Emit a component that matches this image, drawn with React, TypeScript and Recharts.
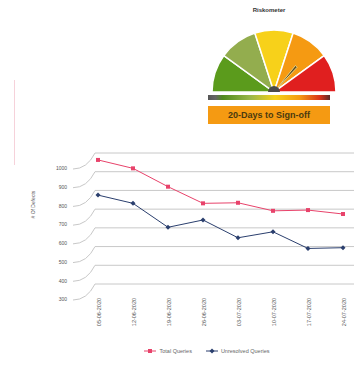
import { LineChart, Line, XAxis, YAxis, CartesianGrid, Legend, PieChart, Pie, Cell } from 'recharts'

const weeks = [
  '05-06-2020',
  '12-06-2020',
  '19-06-2020',
  '26-06-2020',
  '03-07-2020',
  '10-07-2020',
  '17-07-2020',
  '24-07-2020',
]
const totalQueries = [963, 918, 820, 731, 734, 691, 695, 674]
const unresolvedQueries = [775, 731, 603, 642, 547, 579, 490, 494]
const yTicks = [300, 400, 500, 600, 700, 800, 900, 1000]

const riskBands = [1, 1, 1, 1, 1]
const riskColors = ['#5b9b1c', '#93ad4e', '#f7d11a', '#f59a12', '#e01f1f']
const needleAt = 131 // degrees from the left end of the dial
const daysToSignOff = 20

const data = weeks.map((w, i) => ({
  week: w,
  total: totalQueries[i],
  unresolved: unresolvedQueries[i],
}))

const PLOT_LEFT = 95
const DEPTH_X = 26
const DEPTH_Y = 16
const FONT = '"Liberation Sans", Arial, sans-serif'

const YTick = (props: any) => {
  const { y, payload } = props
  return (
    <g>
      <path
        d={`M${PLOT_LEFT - DEPTH_X + 4},${y + DEPTH_Y} Q${PLOT_LEFT - 8},${y + DEPTH_Y} ${PLOT_LEFT},${y}`}
        stroke="#c8c8c8"
        fill="none"
      />
      <text
        x={PLOT_LEFT - DEPTH_X - 2}
        y={y + DEPTH_Y}
        textAnchor="end"
        dominantBaseline="middle"
        fontSize={5}
        fill="#555"
        fontFamily={FONT}
      >
        {payload.value}
      </text>
    </g>
  )
}

const XTick = (props: any) => {
  const { x, payload } = props
  return (
    <text
      transform={`translate(${x + 2},298) rotate(-90)`}
      textAnchor="end"
      dominantBaseline="middle"
      fontSize={5.5}
      fill="#555"
      fontFamily={FONT}
    >
      {payload.value}
    </text>
  )
}

const LegendBox = () => (
  <div
    style={{
      display: 'flex',
      justifyContent: 'center',
      gap: 14,
      paddingLeft: 60,
      fontSize: 5.5,
      color: '#666',
      fontFamily: FONT,
    }}
  >
    <span style={{ display: 'flex', alignItems: 'center', gap: 3 }}>
      <svg width={12} height={6}>
        <line x1={0} y1={3} x2={12} y2={3} stroke="#e8436b" />
        <rect x={4} y={1} width={4} height={4} fill="#e8436b" />
      </svg>
      Total Queries
    </span>
    <span style={{ display: 'flex', alignItems: 'center', gap: 3 }}>
      <svg width={12} height={6}>
        <line x1={0} y1={3} x2={12} y2={3} stroke="#2b3f6e" />
        <path d="M6,0.5 L8.5,3 L6,5.5 L3.5,3 Z" fill="#2b3f6e" />
      </svg>
      Unresolved Queries
    </span>
  </div>
)

const Square = (props: any) => (
  <rect x={props.cx - 2} y={props.cy - 2} width={4} height={4} fill="#e8436b" />
)
const Diamond = (props: any) => (
  <path
    d={`M${props.cx},${props.cy - 2.5} L${props.cx + 2.5},${props.cy} L${props.cx},${props.cy + 2.5} L${props.cx - 2.5},${props.cy} Z`}
    fill="#2b3f6e"
  />
)

export default function App() {
  const dial = riskBands.map((v, i) => ({ name: `band${i}`, value: v }))
  const needle = [
    { name: 'a', value: needleAt - 2 },
    { name: 'n', value: 4 },
    { name: 'b', value: 180 - needleAt - 2 },
  ]
  return (
    <div style={{ position: 'absolute', left: 0, top: 0, width: 354, height: 370, background: '#fff' }}>
      <div
        style={{
          position: 'absolute',
          left: 14,
          top: 80,
          width: 1,
          height: 85,
          background: '#f6d2da',
        }}
      />
      <div
        style={{
          position: 'absolute',
          left: 229,
          top: 7,
          width: 80,
          textAlign: 'center',
          fontSize: 6,
          fontWeight: 'bold',
          fontFamily: FONT,
          color: '#333',
        }}
      >
        Riskometer
      </div>
      <div style={{ position: 'absolute', left: 199, top: 0 }}>
        <PieChart width={140} height={92}>
          <Pie
            data={dial}
            dataKey="value"
            cx={70}
            cy={87}
            startAngle={180}
            endAngle={0}
            innerRadius={0}
            outerRadius={62}
            stroke="#fff"
            strokeWidth={1.5}
            isAnimationActive={false}
          >
            {dial.map((d, i) => (
              <Cell key={d.name} fill={riskColors[i]} />
            ))}
          </Pie>
          <Pie
            data={needle}
            dataKey="value"
            cx={70}
            cy={87}
            startAngle={180}
            endAngle={0}
            innerRadius={5}
            outerRadius={34}
            stroke="none"
            isAnimationActive={false}
          >
            {needle.map((d) => (
              <Cell
                key={d.name}
                fill={d.name === 'n' ? '#5c4a1e' : 'transparent'}
                stroke={d.name === 'n' ? '#f4e8a0' : 'none'}
                strokeWidth={0.8}
              />
            ))}
          </Pie>
          <Pie
            data={[{ name: 'hub', value: 1 }]}
            dataKey="value"
            cx={70}
            cy={87}
            startAngle={180}
            endAngle={0}
            innerRadius={0}
            outerRadius={6}
            fill="#4a4a4a"
            stroke="none"
            isAnimationActive={false}
          />
        </PieChart>
      </div>
      <div
        style={{
          position: 'absolute',
          left: 208,
          top: 95,
          width: 122,
          height: 5,
          background:
            'linear-gradient(to right, #555 0%, #666 6%, #4f8a1c 12%, #9ab84a 35%, #f5d21a 55%, #f59a12 75%, #d8301a 92%, #5a2a2a 100%)',
        }}
      />
      <div
        style={{
          position: 'absolute',
          left: 208,
          top: 106,
          width: 122,
          height: 18,
          background: '#f59a12',
          display: 'flex',
          alignItems: 'center',
          justifyContent: 'center',
          fontSize: 9,
          fontWeight: 'bold',
          fontFamily: FONT,
          color: '#4a3a10',
        }}
      >
        {daysToSignOff}-Days to Sign-off
      </div>
      <div style={{ position: 'absolute', left: 0, top: 0 }}>
        <LineChart
          width={354}
          height={370}
          data={data}
          margin={{ top: 153, right: 0, left: 0, bottom: 20 }}
        >
          <CartesianGrid vertical={false} stroke="#c8c8c8" />
          <XAxis
            dataKey="week"
            height={60}
            tick={<XTick />}
            tickLine={false}
            axisLine={false}
            interval={0}
            padding={{ left: 3, right: 11 }}
          />
          <YAxis
            width={95}
            domain={[300, 1000]}
            ticks={yTicks}
            interval={0}
            tick={<YTick />}
            tickLine={false}
            axisLine={false}
            label={{
              value: '# Of Defects',
              angle: -90,
              position: 'insideLeft',
              offset: 33,
              style: { fontSize: 5, fill: '#555', fontFamily: FONT },
            }}
          />
          <Legend
            verticalAlign="bottom"
            content={<LegendBox />}
            wrapperStyle={{ position: 'absolute', top: 348, left: 0, width: 354 }}
          />
          <Line
            dataKey="total"
            stroke="#e8436b"
            strokeWidth={1}
            dot={<Square />}
            isAnimationActive={false}
          />
          <Line
            dataKey="unresolved"
            stroke="#2b3f6e"
            strokeWidth={1}
            dot={<Diamond />}
            isAnimationActive={false}
          />
        </LineChart>
      </div>
    </div>
  )
}
